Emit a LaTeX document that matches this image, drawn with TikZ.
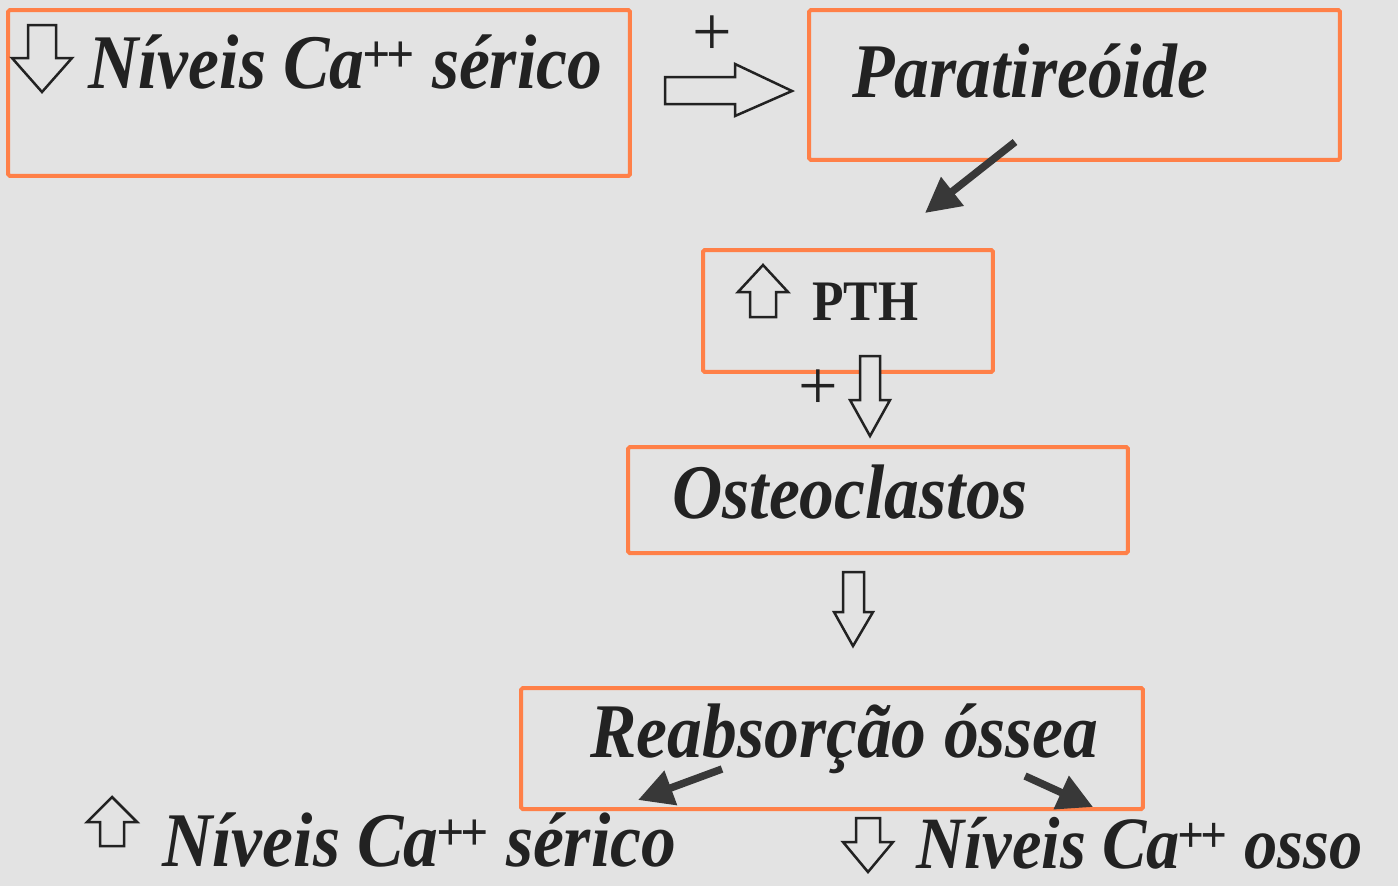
\documentclass[tikz,border=0pt]{standalone}
\usepackage{fontspec}
\setmainfont{Liberation Serif}
\usetikzlibrary{arrows.meta}
\definecolor{bg}{RGB}{227,227,227}
\definecolor{obox}{RGB}{255,128,72}
\definecolor{ink}{RGB}{34,34,34}
\tikzset{
  orangebox/.style={draw=obox, line width=0.08cm, rounded corners=1pt, inner sep=0pt},
  bigtext/.style={anchor=base west, inner sep=0pt, text=ink, font=\fontsize{44}{48}\selectfont\bfseries\itshape},
  pthtext/.style={anchor=base west, inner sep=0pt, text=ink, font=\fontsize{32.6}{36}\selectfont\bfseries},
  plustext/.style={inner sep=0pt, text=ink, font=\fontsize{40}{44}\selectfont},
  hollow/.style={draw=ink, line width=0.05cm, line join=miter, fill=bg},
  solidarrow/.style={draw=ink!90, line width=0.15cm, -{Triangle[length=0.7cm,width=0.7cm]}}
}
\newcommand{\sq}[1]{\scalebox{0.9}[1]{#1}}
\newcommand{\pp}{\textsuperscript{\kern-0.05em+\kern-0.08em+}}
\begin{document}
\begin{tikzpicture}[x=0.02cm,y=-0.02cm]
\fill[bg] (0,0) rectangle (1398,886);
\useasboundingbox (0,0) rectangle (1398,886);
% boxes
\node[orangebox, minimum width=12.44cm, minimum height=3.32cm] (b1) at (319,93) {};
\node[orangebox, minimum width=10.62cm, minimum height=3.0cm] (b2) at (1074.5,85) {};
\node[orangebox, minimum width=5.8cm, minimum height=2.44cm] (b3) at (848,311) {};
\node[orangebox, minimum width=10cm, minimum height=2.12cm] (b4) at (878,500) {};
\node[orangebox, minimum width=12.44cm, minimum height=2.42cm] (b5) at (832,748.5) {};
% texts
\node[bigtext] (t1) at (88,88) {\sq{Níveis Ca\pp{} sérico}};
\node[bigtext] (t2) at (852,97) {\sq{Paratireóide}};
\node[pthtext] (t3) at (812,320) {\sq{PTH}};
\node[bigtext] (t4) at (672,518) {\sq{Osteoclastos}};
\node[bigtext] (t5) at (590,757) {\sq{Reabsorção óssea}};
\node[bigtext] (t6) at (162,866) {\sq{Níveis Ca\pp{} sérico}};
\node[bigtext, font=\fontsize{42}{46}\selectfont\bfseries\itshape] (t7) at (916,868) {\scalebox{0.9}[1]{Níveis Ca\pp{} osso}};
\node[plustext] (p1) at (712,36) {+};
\node[plustext] (p2) at (818,390) {+};
% hollow arrows
\draw[hollow] (28,25)--(56,25)--(56,58)--(72,58)--(42,92)--(12,58)--(28,58)--cycle;
\draw[hollow] (665,77)--(735,77)--(735,64)--(792,91)--(735,116)--(735,104)--(665,104)--cycle;
\draw[hollow] (750,317)--(776,317)--(776,292)--(788,292)--(763,265)--(738,292)--(750,292)--cycle;
\draw[hollow] (860,356)--(880,356)--(880,400)--(890,400)--(870,436)--(850,400)--(860,400)--cycle;
\draw[hollow] (843,572)--(864,572)--(864,612)--(873,612)--(853,646)--(834,612)--(843,612)--cycle;
\draw[hollow] (100,846)--(124,846)--(124,822)--(137,822)--(112,797)--(87,822)--(100,822)--cycle;
\draw[hollow] (856,818)--(880,818)--(880,842)--(893,842)--(868,872)--(843,842)--(856,842)--cycle;
% solid arrows
\coordinate (s1a) at (1015,142); \coordinate (s1b) at (925,213);
\coordinate (s2a) at (722,769); \coordinate (s2b) at (638,800);
\coordinate (s3a) at (1025,776); \coordinate (s3b) at (1093,807);
\draw[solidarrow] (s1a) -- (s1b);
\draw[solidarrow] (s2a) -- (s2b);
\draw[solidarrow] (s3a) -- (s3b);
\end{tikzpicture}
\end{document}
